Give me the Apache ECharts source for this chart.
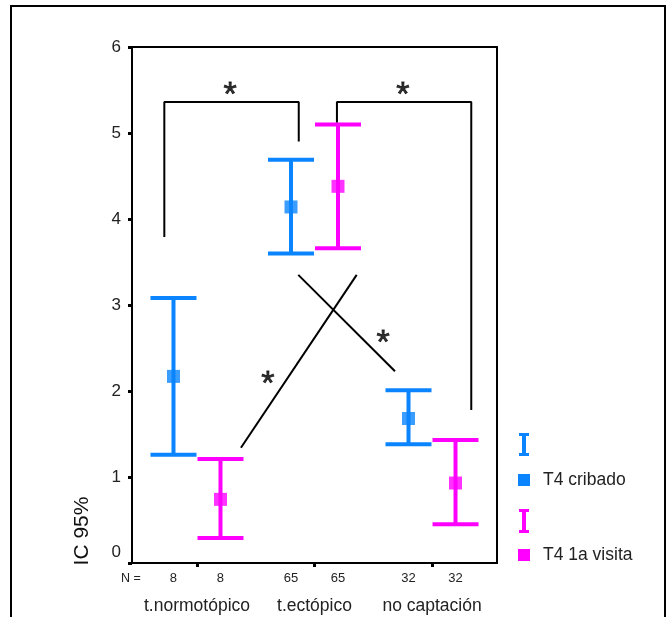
<!DOCTYPE html>
<html>
<head>
<meta charset="utf-8">
<script src="https://cdn.jsdelivr.net/npm/echarts@6/dist/echarts.min.js"></script>
<style>
  html, body { margin: 0; padding: 0; background: #fff; }
  #chart { width: 672px; height: 617px; }
</style>
</head>
<body>
<div id="chart"></div>
<script>
// Groups on the x axis
const categories = ['t.normotópico', 't.ectópico', 'no captación'];

// Sample sizes per group
const nCribado = [8, 65, 32];
const nVisita = [8, 65, 32];

// T4 cribado: mean and 95% CI
const cribadoMean = [2.17, 4.14, 1.68];
const cribadoLow = [1.26, 3.60, 1.38];
const cribadoHigh = [3.08, 4.69, 2.01];

// T4 1a visita: mean and 95% CI
const visitaMean = [0.74, 4.38, 0.93];
const visitaLow = [0.29, 3.66, 0.45];
const visitaHigh = [1.21, 5.10, 1.43];

// Y axis ticks
const yTicks = [0, 1, 2, 3, 4, 5, 6];

// Significance annotations (brackets, crossing lines, asterisks)
const bracketLeft = [[-0.278, 3.79], [-0.278, 5.36], [0.866, 5.36], [0.866, 4.90]];
const bracketRight = [[1.191, 5.12], [1.191, 5.36], [2.334, 5.36], [2.334, 1.78]];
const crossUp = [[0.374, 1.34], [1.359, 3.35]];
const crossDown = [[0.862, 3.35], [1.685, 2.23]];
const asterisks = [[0.281, 5.52], [1.751, 5.52], [0.604, 2.16], [1.583, 2.63]];

const BLUE = '#0a84ff';
const MAGENTA = '#ff00ff';
const OFFSET = 0.2;
const FONT = '"Liberation Sans", Arial, sans-serif';

const xBlue = categories.map((c, i) => i - OFFSET);
const xPink = categories.map((c, i) => i + OFFSET);

const nPositions = [];
const nLabels = [];
categories.forEach((c, i) => {
  nPositions.push(i - OFFSET, i + OFFSET);
  nLabels.push(nCribado[i], nVisita[i]);
});

function errorBarItem(params, api) {
  const x = api.value(0);
  const pHi = api.coord([x, api.value(2)]);
  const pLo = api.coord([x, api.value(1)]);
  const half = 23;
  const style = { stroke: api.visual('color'), lineWidth: 4, lineCap: 'butt' };
  return {
    type: 'group',
    children: [
      { type: 'line', shape: { x1: pHi[0], y1: pHi[1], x2: pLo[0], y2: pLo[1] }, style },
      { type: 'line', shape: { x1: pHi[0] - half, y1: pHi[1], x2: pHi[0] + half, y2: pHi[1] }, style },
      { type: 'line', shape: { x1: pLo[0] - half, y1: pLo[1], x2: pLo[0] + half, y2: pLo[1] }, style }
    ]
  };
}

function annotLine(data) {
  return {
    type: 'line', data, symbol: 'none', silent: true, z: 1,
    lineStyle: { color: '#000', width: 2 }, animation: false
  };
}

const X_MIN = -0.553, X_MAX = 2.553;

const chart = echarts.init(document.getElementById('chart'), null, { renderer: 'canvas' });

chart.setOption({
  animation: false,
  backgroundColor: '#fff',
  grid: {
    left: 132, right: 175, top: 47, bottom: 54,
    show: true, borderColor: '#000', borderWidth: 2
  },
  xAxis: [
    {
      type: 'value', min: X_MIN, max: X_MAX,
      axisLine: { show: true, onZero: false, lineStyle: { color: '#000', width: 2 } },
      axisTick: { show: true, customValues: [0, 1, 2], length: 4, lineStyle: { color: '#000', width: 3 } },
      axisLabel: {
        customValues: [0, 1, 2],
        formatter: v => categories[Math.round(v)],
        margin: 34, fontSize: 17.5, color: '#222', fontFamily: FONT
      },
      splitLine: { show: false }
    },
    {
      type: 'value', min: X_MIN, max: X_MAX, position: 'bottom',
      axisLine: { show: false, onZero: false }, axisTick: { show: false },
      axisLabel: {
        customValues: nPositions,
        formatter: v => {
          let best = 0;
          nPositions.forEach((p, k) => { if (Math.abs(p - v) < Math.abs(nPositions[best] - v)) best = k; });
          return String(nLabels[best]);
        },
        margin: 9, fontSize: 13, color: '#222', fontFamily: FONT
      },
      splitLine: { show: false }
    }
  ],
  yAxis: {
    type: 'value', min: 0, max: 6, interval: 1,
    axisLine: { show: true, onZero: false, lineStyle: { color: '#000', width: 2 } },
    axisTick: { show: true, length: 4, lineStyle: { color: '#000', width: 3 } },
    axisLabel: {
      margin: 11, fontSize: 17, color: '#222', fontFamily: FONT,
      formatter: v => (v === yTicks[0] ? '{z|' + v + '}' : String(v)),
      rich: { z: { fontSize: 17, color: '#222', fontFamily: FONT, padding: [0, 0, 22, 0] } }
    },
    splitLine: { show: false }
  },
  series: [
    annotLine(bracketLeft),
    annotLine(bracketRight),
    annotLine(crossUp),
    annotLine(crossDown),
    {
      type: 'custom', name: 'T4 cribado', renderItem: errorBarItem, z: 2,
      itemStyle: { color: BLUE },
      data: xBlue.map((x, i) => [x, cribadoLow[i], cribadoHigh[i]])
    },
    {
      type: 'scatter', name: 'T4 cribado', symbol: 'rect', symbolSize: 13, z: 3,
      itemStyle: { color: BLUE },
      data: xBlue.map((x, i) => [x, cribadoMean[i]])
    },
    {
      type: 'custom', name: 'T4 1a visita', renderItem: errorBarItem, z: 2,
      itemStyle: { color: MAGENTA },
      data: xPink.map((x, i) => [x, visitaLow[i], visitaHigh[i]])
    },
    {
      type: 'scatter', name: 'T4 1a visita', symbol: 'rect', symbolSize: 13, z: 3,
      itemStyle: { color: MAGENTA },
      data: xPink.map((x, i) => [x, visitaMean[i]])
    },
    {
      type: 'scatter', symbolSize: 1, silent: true, z: 4,
      itemStyle: { color: 'transparent' },
      label: {
        show: true, position: 'inside', formatter: '*',
        fontSize: 34, color: '#000', fontFamily: FONT, offset: [0, 7],
        textBorderColor: '#000', textBorderWidth: 0.8
      },
      data: asterisks
    }
  ],
  graphic: [
    // outer frame
    { type: 'rect', shape: { x: 11, y: 6, width: 654, height: 640 }, style: { fill: 'none', stroke: '#000', lineWidth: 2 }, silent: true },
    // axis title
    {
      type: 'text', x: 82, y: 531, rotation: Math.PI / 2,
      style: { text: 'IC 95%', font: '21px ' + FONT, fill: '#111', textAlign: 'center', textVerticalAlign: 'middle' }
    },
    // N row caption
    {
      type: 'text', x: 131, y: 579,
      style: { text: 'N =', font: '12.5px ' + FONT, fill: '#222', textAlign: 'center', textVerticalAlign: 'middle' }
    },
    // legend: error bar icons, mean markers, labels
    { type: 'line', shape: { x1: 524, y1: 434, x2: 524, y2: 455 }, style: { stroke: BLUE, lineWidth: 4 } },
    { type: 'line', shape: { x1: 519, y1: 434.5, x2: 529, y2: 434.5 }, style: { stroke: BLUE, lineWidth: 3 } },
    { type: 'line', shape: { x1: 519, y1: 454.5, x2: 529, y2: 454.5 }, style: { stroke: BLUE, lineWidth: 3 } },
    { type: 'rect', shape: { x: 518, y: 474, width: 12, height: 12 }, style: { fill: BLUE } },
    { type: 'text', x: 543, y: 480, style: { text: 'T4 cribado', font: '17.5px ' + FONT, fill: '#222', textVerticalAlign: 'middle' } },
    { type: 'line', shape: { x1: 524, y1: 510, x2: 524, y2: 532 }, style: { stroke: MAGENTA, lineWidth: 4 } },
    { type: 'line', shape: { x1: 519, y1: 510.5, x2: 529, y2: 510.5 }, style: { stroke: MAGENTA, lineWidth: 3 } },
    { type: 'line', shape: { x1: 519, y1: 531.5, x2: 529, y2: 531.5 }, style: { stroke: MAGENTA, lineWidth: 3 } },
    { type: 'rect', shape: { x: 518, y: 549, width: 12, height: 12 }, style: { fill: MAGENTA } },
    { type: 'text', x: 543, y: 555, style: { text: 'T4 1a visita', font: '17.5px ' + FONT, fill: '#222', textVerticalAlign: 'middle' } }
  ]
});
</script>
</body>
</html>
